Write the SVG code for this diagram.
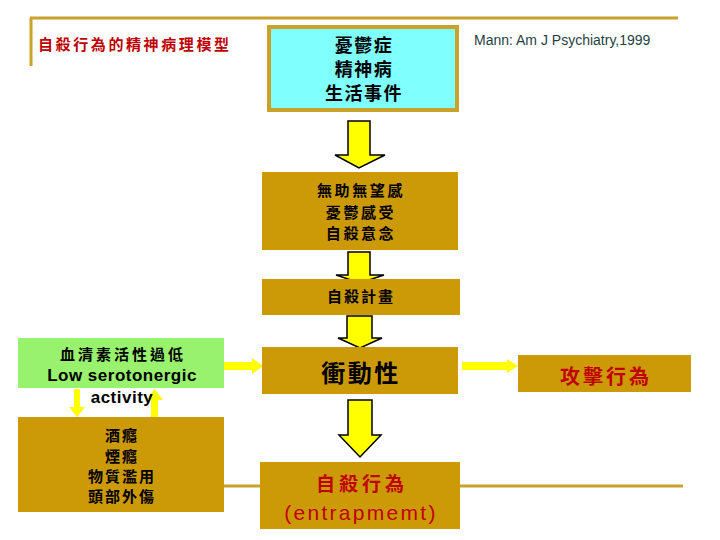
<svg xmlns="http://www.w3.org/2000/svg" width="720" height="540" viewBox="0 0 720 540">
<defs>
<style>
.cjk{font-family:"Noto Sans CJK TC","Noto Sans CJK SC",sans-serif;font-weight:bold;text-anchor:middle}
.lat{font-family:"Liberation Sans",Arial,sans-serif;text-anchor:middle}
.gold{fill:#CC9A06}
.blk{fill:#000}
.red{fill:#C00000}
.barrow{fill:#FFFF00;stroke:#000;stroke-width:1.5}
.tline{stroke:#C9A12B;stroke-width:3;fill:none}
</style>
</defs>
<rect width="720" height="540" fill="#fff"/>
<!-- template lines -->
<g id="template">
<path class="tline" d="M30,18 H678 M31,18 V66"/>
<path class="tline" d="M224,486 H683"/>
</g>
<text x="38" y="50" class="cjk red" style="text-anchor:start" font-size="15" letter-spacing="2.6">自殺行為的精神病理模型</text>
<text x="474" y="45" class="lat" style="text-anchor:start" font-size="14" fill="#1F3F3F">Mann: Am J Psychiatry,1999</text>

<g id="connectors">
<polygon class="barrow" points="348,121 370,121 370,155 385,155 359,168 335,155 348,155"/>
<polygon class="barrow" points="348,252 370,252 370,275 384,275 360,283 336,275 348,275"/>
<polygon class="barrow" points="347,316 372,316 372,338 382,338 360,348 338,338 347,338"/>
<polygon class="barrow" points="348,400 372,400 372,435 381,435 360,457 339,435 348,435"/>
<!-- thin yellow arrows -->
<polygon fill="#FFFF00" points="224,362 252,362 252,358 263,366 252,374 252,370 224,370"/>
<polygon fill="#FFFF00" points="462,362 507,362 507,359 518,366 507,373 507,370 462,370"/>
<polygon fill="#FFFF00" points="74,389 80,389 80,407 85,407 77,417 69,407 74,407"/>
<polygon fill="#FFFF00" points="151,417 158,417 158,400 163,400 154.5,389 146,400 151,400"/>
</g>

<g id="n1">
<rect x="269" y="27" width="188" height="83" fill="#80FFFF" stroke="#C9A12B" stroke-width="4"/>
<text x="364" y="52" class="cjk blk" font-size="18" letter-spacing="1.5">憂鬱症</text>
<text x="364" y="76" class="cjk blk" font-size="18" letter-spacing="1.5">精神病</text>
<text x="364" y="100" class="cjk blk" font-size="18" letter-spacing="1.5">生活事件</text>
</g>
<g id="n2">
<rect x="262" y="172" width="196" height="78" class="gold"/>
<text x="361" y="196" class="cjk blk" font-size="15" letter-spacing="2.6">無助無望感</text>
<text x="361" y="218" class="cjk blk" font-size="15" letter-spacing="2.6">憂鬱感受</text>
<text x="361" y="239" class="cjk blk" font-size="15" letter-spacing="2.6">自殺意念</text>
</g>
<g id="n3">
<rect x="262" y="279" width="198" height="36" class="gold"/>
<text x="361" y="302" class="cjk blk" font-size="15" letter-spacing="2">自殺計畫</text>
</g>
<g id="n4">
<rect x="262" y="347" width="196" height="47" class="gold"/>
<text x="361" y="382" class="cjk blk" font-size="24" letter-spacing="2.5">衝動性</text>
</g>
<g id="n5">
<rect x="260" y="462" width="200" height="67" class="gold"/>
<text x="362" y="491" class="cjk red" font-size="19" letter-spacing="4">自殺行為</text>
<text x="361" y="520" class="lat red" font-size="21" letter-spacing="2.3">(entrapmemt)</text>
</g>
<g id="n6">
<rect x="18" y="338" width="206" height="50" fill="#98F26E"/>
<text x="123" y="360" class="cjk blk" font-size="15" letter-spacing="3">血清素活性過低</text>
<text x="122" y="381" class="lat blk" font-size="17" font-weight="bold" letter-spacing="0.5">Low serotonergic</text>
<text x="122" y="403" class="lat blk" font-size="17" font-weight="bold" letter-spacing="0.5">activity</text>
</g>
<g id="n7">
<rect x="18" y="417" width="206" height="95" class="gold"/>
<text x="122" y="441" class="cjk blk" font-size="15" letter-spacing="2">酒癮</text>
<text x="122" y="462" class="cjk blk" font-size="15" letter-spacing="2">煙癮</text>
<text x="122" y="482" class="cjk blk" font-size="15" letter-spacing="2">物質濫用</text>
<text x="122" y="502" class="cjk blk" font-size="15" letter-spacing="2">頭部外傷</text>
</g>
<g id="n8">
<rect x="518" y="355" width="173" height="37" class="gold"/>
<text x="606" y="384" class="cjk red" font-size="20" letter-spacing="3">攻擊行為</text>
</g>
</svg>
